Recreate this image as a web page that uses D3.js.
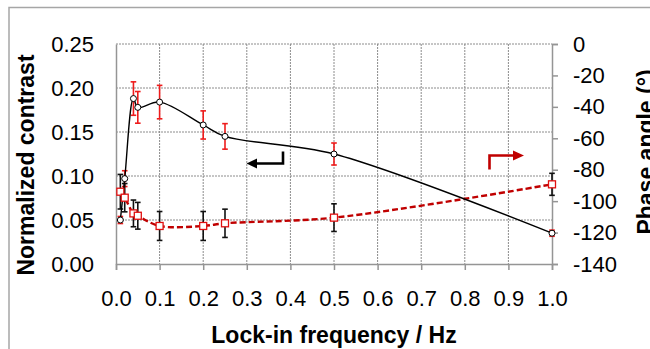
<!DOCTYPE html>
<html>
<head>
<meta charset="utf-8">
<script src="https://cdn.jsdelivr.net/npm/d3@7"></script>
<style>
  html, body { margin: 0; padding: 0; background: #fff; }
  svg { display: block; font-family: "Liberation Sans", Arial, sans-serif; }
</style>
</head>
<body>
<div id="chart"></div>
<script>
// lock-in frequency (Hz)
const freq = [0.01, 0.02, 0.04, 0.05, 0.1, 0.2, 0.25, 0.5, 1.0];
// normalized contrast (left axis) and its error
const contrast = [0.050, 0.097, 0.188, 0.178, 0.184, 0.158, 0.145, 0.125, 0.035];
const contrastErr = [0.004, 0.009, 0.019, 0.018, 0.019, 0.016, 0.0145, 0.0125, 0.0035];
// phase angle in degrees (right axis) and its error
const phase = [-94.0, -97.8, -107.8, -109.3, -115.8, -115.8, -114.1, -110.5, -89.3];
const phaseErr = [11, 9, 8.5, 8.5, 9.2, 9.2, 9, 8.8, 7];

const xTicks = [0, 0.1, 0.2, 0.3, 0.4, 0.5, 0.6, 0.7, 0.8, 0.9, 1.0];
const yLeftTicks = [0, 0.05, 0.10, 0.15, 0.20, 0.25];
const yRightTicks = [0, -20, -40, -60, -80, -100, -120, -140];

const W = 650, H = 349;
const margin = { top: 44, right: 98, bottom: 85, left: 116 };
const width = W - margin.left - margin.right;
const height = H - margin.top - margin.bottom;

const root = d3.select("#chart").append("svg")
    .attr("width", W)
    .attr("height", H);

// outer chart frame (runs off the picture to the right and bottom)
root.append("path")
    .attr("d", "M9,360 L9,7.5 L660,7.5")
    .attr("fill", "none")
    .attr("stroke", "#a6a6a6")
    .attr("stroke-width", 1.5);

const svg = root.append("g")
    .attr("transform", "translate(" + margin.left + "," + margin.top + ")");

const x = d3.scaleLinear().domain([0, 1]).range([0, width]);
const yL = d3.scaleLinear().domain([0, 0.25]).range([height, 0]);
const yR = d3.scaleLinear().domain([-140, 0]).range([height, 0]);

// gridlines
const grid = svg.append("g")
    .attr("stroke", "#8c8c8c")
    .attr("stroke-width", 1)
    .attr("stroke-dasharray", "2,1");
grid.selectAll("line.v")
    .data(xTicks.slice(1, -1))
    .enter().append("line")
    .attr("x1", d => x(d)).attr("x2", d => x(d))
    .attr("y1", 0).attr("y2", height);
grid.selectAll("line.h")
    .data(yLeftTicks.slice(1))
    .enter().append("line")
    .attr("x1", 0).attr("x2", width)
    .attr("y1", d => yL(d)).attr("y2", d => yL(d));

// axes
const axisColor = "#959595";
const fontSize = "22px";

const xAxis = svg.append("g")
    .attr("transform", "translate(0," + height + ")")
    .call(d3.axisBottom(x).tickValues(xTicks).tickFormat(d3.format(".1f")).tickSize(6).tickPadding(20));

const yAxisL = svg.append("g")
    .call(d3.axisLeft(yL).tickValues(yLeftTicks).tickFormat(d3.format(".2f")).tickSize(0).tickPadding(22));

const yAxisR = svg.append("g")
    .attr("transform", "translate(" + width + ",0)")
    .call(d3.axisRight(yR).tickValues(yRightTicks).tickFormat(d => d3.format("d")(d).replace("\u2212", "-")).tickSize(6).tickPadding(15));

[xAxis, yAxisL, yAxisR].forEach(a => {
    a.select(".domain").attr("stroke", axisColor).attr("stroke-width", 1.5);
    a.selectAll(".tick line").attr("stroke", axisColor).attr("stroke-width", 1.5);
    a.selectAll("text")
        .style("font-size", fontSize)
        .style("font-family", "'Liberation Sans', Arial, sans-serif")
        .attr("fill", "#000");
});
xAxis.selectAll("text").attr("dy", "0.71em");

// axis titles
svg.append("text")
    .attr("x", width / 2)
    .attr("y", height + 79)
    .attr("text-anchor", "middle")
    .style("font-size", "23px")
    .style("font-weight", "bold")
    .text("Lock-in frequency / Hz");

svg.append("text")
    .attr("transform", "rotate(-90)")
    .attr("x", -121)
    .attr("y", -82)
    .attr("text-anchor", "middle")
    .style("font-size", "23px")
    .style("font-weight", "bold")
    .text("Normalized contrast");

svg.append("text")
    .attr("transform", "rotate(-90)")
    .attr("x", -108)
    .attr("y", width + 102)
    .attr("text-anchor", "middle")
    .style("font-size", "23px")
    .style("font-weight", "bold")
    .text("Phase angle (°)");

const cData = freq.map((f, i) => ({ f: f, v: contrast[i], e: contrastErr[i] }));
const pData = freq.map((f, i) => ({ f: f, v: phase[i], e: phaseErr[i] }));

// error bars
function errorBars(data, y, color) {
    const g = svg.append("g").attr("stroke", color).attr("stroke-width", 1.6);
    const capW = 2.8;
    data.forEach(d => {
        const cx = x(d.f), top = y(d.v + d.e), bot = y(d.v - d.e);
        g.append("line").attr("x1", cx).attr("x2", cx).attr("y1", top).attr("y2", bot);
        g.append("line").attr("x1", cx - capW).attr("x2", cx + capW).attr("y1", top).attr("y2", top);
        g.append("line").attr("x1", cx - capW).attr("x2", cx + capW).attr("y1", bot).attr("y2", bot);
    });
}
errorBars(cData, yL, "#ee1c1c");
errorBars(pData, yR, "#111111");

// lines
const lineC = d3.line().x(d => x(d.f)).y(d => yL(d.v)).curve(d3.curveCatmullRom.alpha(0.5));
const lineP = d3.line().x(d => x(d.f)).y(d => yR(d.v)).curve(d3.curveCatmullRom.alpha(0.5));

svg.append("path")
    .datum(pData)
    .attr("d", lineP)
    .attr("fill", "none")
    .attr("stroke", "#c00000")
    .attr("stroke-width", 2.4)
    .attr("stroke-dasharray", "6,3");

svg.append("path")
    .datum(cData)
    .attr("d", lineC)
    .attr("fill", "none")
    .attr("stroke", "#000")
    .attr("stroke-width", 1.4);

// markers
svg.selectAll("circle.c")
    .data(cData)
    .enter().append("circle")
    .attr("cx", d => x(d.f))
    .attr("cy", d => yL(d.v))
    .attr("r", 3)
    .attr("fill", "#fff")
    .attr("stroke", "#000")
    .attr("stroke-width", 1);

svg.selectAll("rect.p")
    .data(pData)
    .enter().append("rect")
    .attr("x", d => x(d.f) - 3.5)
    .attr("y", d => yR(d.v) - 3.5)
    .attr("width", 7)
    .attr("height", 7)
    .attr("fill", "#fff")
    .attr("stroke", "#e01010")
    .attr("stroke-width", 1.3);

// arrows showing which axis each series belongs to
function arrow(points, head, color) {
    svg.append("path")
        .attr("d", d3.line()(points))
        .attr("fill", "none")
        .attr("stroke", color)
        .attr("stroke-width", 2.6);
    svg.append("path")
        .attr("d", d3.line()(head) + "Z")
        .attr("fill", color);
}
// black: points left toward the contrast axis
arrow([[167, 107.5], [167, 119.5], [140, 119.5]],
      [[130.5, 119.5], [141, 114.5], [141, 124.5]], "#000");
// red: points right toward the phase axis
arrow([[373.5, 125.5], [373.5, 111.5], [398, 111.5]],
      [[408, 111.5], [397, 106.5], [397, 116.5]], "#c00000");
</script>
</body>
</html>
